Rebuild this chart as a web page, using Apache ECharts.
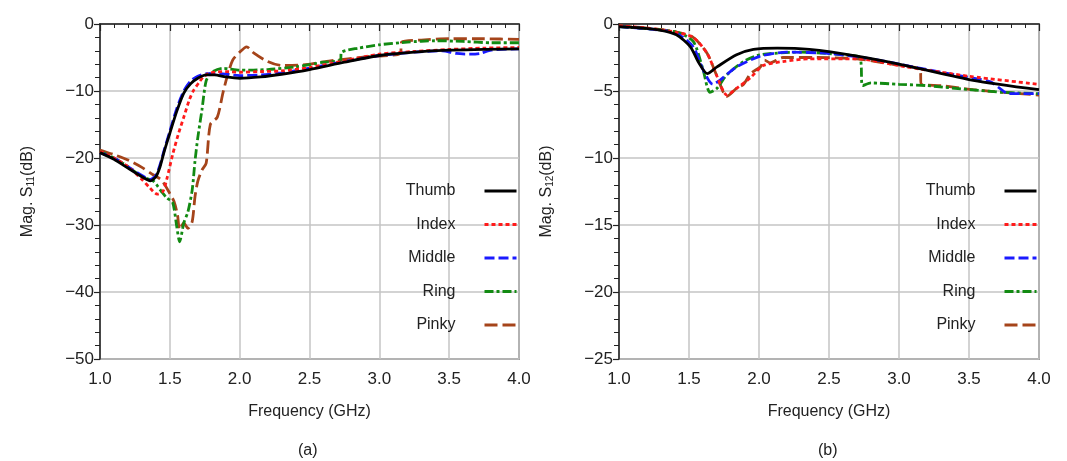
<!DOCTYPE html>
<html>
<head>
<meta charset="utf-8">
<title>S11 / S12</title>
<script src="https://cdn.jsdelivr.net/npm/echarts@6/dist/echarts.min.js"></script>
<style>
    html, body { margin: 0; padding: 0; background: #fff; }
    #main { width: 1067px; height: 461px; }
</style>
</head>
<body>
<div id="main"></div>
<script>
// finger names (legend order)
var fingers = ['Thumb', 'Index', 'Middle', 'Ring', 'Pinky'];

// (a) S11 - frequency (GHz) and magnitude (dB)
var s11ThumbF = [1.0, 1.1, 1.2, 1.3, 1.36, 1.4, 1.43, 1.46, 1.5, 1.55, 1.6, 1.65, 1.7, 1.76, 1.82, 1.9, 2.0, 2.15, 2.3, 2.5, 2.75, 3.0, 3.25, 3.5, 3.75, 4.0];
var s11Thumb  = [-19.2, -20.2, -21.5, -22.8, -23.4, -22.8, -21.3, -19.0, -16.3, -13.0, -10.3, -8.9, -8.1, -7.6, -7.6, -7.9, -8.1, -7.9, -7.5, -6.8, -5.7, -4.7, -4.2, -3.9, -3.8, -3.7];

var s11IndexF = [1.0, 1.1, 1.2, 1.3, 1.35, 1.41, 1.45, 1.48, 1.52, 1.56, 1.6, 1.64, 1.67, 1.71, 1.74, 1.79, 1.9, 2.0, 2.15, 2.3, 2.5, 2.75, 3.0, 3.25, 3.5, 3.75, 4.0];
var s11Index  = [-19.0, -20.0, -21.3, -23.2, -24.3, -25.4, -25.0, -23.0, -19.5, -16.5, -13.9, -11.3, -9.9, -8.7, -7.9, -7.3, -7.1, -7.2, -7.1, -7.0, -6.5, -5.5, -4.5, -4.1, -3.8, -3.6, -3.5];

var s11MiddleF = [1.0, 1.1, 1.2, 1.3, 1.36, 1.4, 1.43, 1.46, 1.5, 1.55, 1.6, 1.65, 1.7, 1.76, 1.85, 2.0, 2.15, 2.3, 2.5, 2.75, 3.0, 3.25, 3.45, 3.55, 3.65, 3.72, 3.8, 4.0];
var s11Middle  = [-19.2, -20.0, -21.3, -22.6, -23.2, -22.6, -21.0, -18.8, -16.0, -12.6, -10.0, -8.5, -7.8, -7.4, -7.4, -7.7, -7.6, -7.3, -6.6, -5.6, -4.7, -4.2, -4.0, -4.4, -4.5, -4.4, -3.9, -3.7];

var s11RingF = [1.0, 1.1, 1.2, 1.3, 1.38, 1.44, 1.48, 1.52, 1.55, 1.57, 1.6, 1.63, 1.66, 1.68, 1.7, 1.73, 1.76, 1.8, 1.88, 2.0, 2.2, 2.4, 2.6, 2.72, 2.73, 2.85, 3.0, 3.2, 3.4, 3.6, 3.8, 4.0];
var s11Ring  = [-19.0, -20.0, -21.3, -22.8, -23.4, -25.0, -26.0, -26.6, -30.3, -32.5, -29.7, -28.0, -24.8, -20.5, -17.0, -12.8, -8.5, -7.2, -6.6, -6.9, -6.8, -6.4, -5.7, -5.4, -4.2, -3.6, -3.1, -2.7, -2.5, -2.6, -2.8, -2.8];

var s11PinkyF = [1.0, 1.1, 1.2, 1.3, 1.38, 1.44, 1.5, 1.53, 1.555, 1.57, 1.6, 1.63, 1.66, 1.68, 1.7, 1.73, 1.76, 1.79, 1.84, 1.88, 1.91, 1.95, 2.0, 2.05, 2.1, 2.2, 2.3, 2.45, 2.65, 2.9, 3.15, 3.16, 3.3, 3.5, 3.75, 4.0];
var s11Pinky  = [-18.8, -19.5, -20.3, -21.4, -22.5, -23.3, -25.3, -26.5, -28.5, -30.7, -29.7, -30.5, -29.5, -25.8, -23.5, -21.8, -20.8, -15.0, -13.9, -10.3, -7.9, -5.4, -4.2, -3.4, -4.3, -5.6, -6.2, -6.1, -5.5, -4.9, -4.4, -2.7, -2.4, -2.2, -2.2, -2.3];

// (b) S12
var s12ThumbF = [1.0, 1.15, 1.29, 1.41, 1.51, 1.57, 1.63, 1.7, 1.84, 1.96, 2.13, 2.36, 2.7, 3.05, 3.53, 4.0];
var s12Thumb  = [-0.2, -0.3, -0.45, -0.8, -1.7, -2.9, -3.7, -3.2, -2.3, -1.9, -1.8, -1.9, -2.4, -3.1, -4.2, -4.9];

var s12IndexF = [1.0, 1.2, 1.4, 1.53, 1.63, 1.7, 1.77, 1.84, 1.94, 2.03, 2.17, 2.36, 2.7, 3.05, 3.5, 4.0];
var s12Index  = [-0.15, -0.3, -0.6, -1.0, -2.2, -3.9, -5.3, -4.8, -4.0, -3.1, -2.8, -2.6, -2.6, -3.2, -3.9, -4.5];

var s12MiddleF = [1.0, 1.2, 1.41, 1.53, 1.6, 1.67, 1.72, 1.84, 2.01, 2.2, 2.5, 2.8, 3.1, 3.4, 3.65, 3.72, 3.78, 4.0];
var s12Middle  = [-0.2, -0.35, -0.7, -1.7, -3.4, -4.5, -4.2, -3.2, -2.4, -2.1, -2.2, -2.6, -3.2, -3.8, -4.3, -4.8, -5.2, -5.2];

var s12RingF = [1.0, 1.2, 1.41, 1.53, 1.6, 1.65, 1.7, 1.77, 1.89, 2.01, 2.3, 2.6, 2.72, 2.74, 2.8, 3.0, 3.2, 3.5, 3.75, 4.0];
var s12Ring  = [-0.2, -0.35, -0.6, -1.3, -3.4, -5.1, -4.8, -3.8, -2.8, -2.3, -2.1, -2.3, -2.5, -4.6, -4.4, -4.5, -4.6, -4.9, -5.1, -5.2];

var s12PinkyF = [1.0, 1.2, 1.41, 1.53, 1.63, 1.7, 1.77, 1.84, 1.89, 1.94, 2.01, 2.04, 2.08, 2.17, 2.4, 2.7, 2.95, 3.15, 3.16, 3.3, 3.53, 3.75, 4.0];
var s12Pinky  = [-0.15, -0.3, -0.6, -1.0, -2.2, -3.9, -5.4, -4.8, -4.5, -3.7, -3.2, -2.7, -2.9, -2.5, -2.5, -2.6, -3.0, -3.4, -4.5, -4.6, -4.9, -5.1, -5.3];

// line look for each finger
var colors = ['#000000', '#ff1a1a', '#1a1aff', '#128a12', '#a5441a'];
var dashes = ['solid', [4, 3], [10, 4], [9, 3, 3, 3], [13, 5]];

var font = 'Liberation Sans, Arial, sans-serif';

function pairs(xs, ys) {
    var out = [];
    for (var i = 0; i < xs.length; i++) out.push([xs[i], ys[i]]);
    return out;
}

function minus(v) {
    return String(v).replace('-', '\u2212');
}

function xAxisCfg(idx) {
    return {
        type: 'value', gridIndex: idx, min: 1, max: 4, interval: 0.5,
        name: 'Frequency (GHz)', nameLocation: 'middle', nameGap: 45,
        nameTextStyle: { fontFamily: font, fontSize: 16, color: '#222' },
        axisLine: { lineStyle: { color: '#222', width: 1.5 } },
        axisTick: { length: 7, lineStyle: { color: '#222', width: 1.2 } },
        minorTick: { show: true, splitNumber: 5, length: 4, lineStyle: { color: '#222', width: 1 } },
        splitLine: { show: true, lineStyle: { color: '#c4c4c4', width: 1.5 } },
        axisLabel: { fontFamily: font, fontSize: 17, color: '#222', margin: 12,
            formatter: function (v) { return v.toFixed(1); } }
    };
}

function yAxisCfg(idx, min, step, sub) {
    return {
        type: 'value', gridIndex: idx, min: min, max: 0, interval: step,
        name: 'Mag. S{sub|' + sub + '}(dB)', nameLocation: 'middle', nameGap: 64,
        nameTextStyle: { fontFamily: font, fontSize: 16, color: '#222',
            rich: { sub: { fontFamily: font, fontSize: 10, color: '#222', verticalAlign: 'bottom', padding: [6, 0, 0, 0] } } },
        axisLine: { lineStyle: { color: '#222', width: 1.5 } },
        axisTick: { length: 6, lineStyle: { color: '#222', width: 1.2 } },
        minorTick: { show: true, splitNumber: 5, length: 5, lineStyle: { color: '#222', width: 1 } },
        splitLine: { show: true, lineStyle: { color: '#c4c4c4', width: 1.5 } },
        axisLabel: { fontFamily: font, fontSize: 17, color: '#222', margin: 6, formatter: minus }
    };
}

function legendCfg(right) {
    return {
        data: fingers, orient: 'vertical', align: 'right',
        right: right, top: 176, itemWidth: 32, itemHeight: 12, itemGap: 13.5,
        itemStyle: { opacity: 0 },
        lineStyle: { width: 3 },
        textStyle: { fontFamily: font, fontSize: 16, color: '#222', lineHeight: 20,
            width: 62, align: 'right', padding: [0, 24, 0, 0] }
    };
}

var s11Sets = [pairs(s11ThumbF, s11Thumb), pairs(s11IndexF, s11Index), pairs(s11MiddleF, s11Middle), pairs(s11RingF, s11Ring), pairs(s11PinkyF, s11Pinky)];
var s12Sets = [pairs(s12ThumbF, s12Thumb), pairs(s12IndexF, s12Index), pairs(s12MiddleF, s12Middle), pairs(s12RingF, s12Ring), pairs(s12PinkyF, s12Pinky)];

var series = [];
[s11Sets, s12Sets].forEach(function (sets, g) {
    sets.forEach(function (d, i) {
        series.push({
            name: fingers[i], type: 'line', xAxisIndex: g, yAxisIndex: g,
            data: d, symbol: 'none', smooth: 0.25, z: 10 - i,
            lineStyle: { color: colors[i], width: 2.8, type: dashes[i] },
            itemStyle: { color: colors[i] }
        });
    });
});

var chart = echarts.init(document.getElementById('main'));

chart.setOption({
    animation: false,
    backgroundColor: '#fff',
    grid: [
        { left: 100, top: 24, width: 419, height: 335, show: true, borderColor: '#555', borderWidth: 1.5, backgroundColor: '#fff' },
        { left: 619, top: 24, width: 420, height: 335, show: true, borderColor: '#555', borderWidth: 1.5, backgroundColor: '#fff' }
    ],
    legend: [legendCfg(544), legendCfg(24)],
    xAxis: [xAxisCfg(0), xAxisCfg(1)],
    yAxis: [yAxisCfg(0, -50, 10, '11'), yAxisCfg(1, -25, 5, '12')],
    series: series,
    graphic: [
        { type: 'text', left: 298, top: 443, style: { text: '(a)', font: '16px ' + font, fill: '#222' } },
        { type: 'text', left: 818, top: 443, style: { text: '(b)', font: '16px ' + font, fill: '#222' } }
    ]
});
</script>
</body>
</html>
